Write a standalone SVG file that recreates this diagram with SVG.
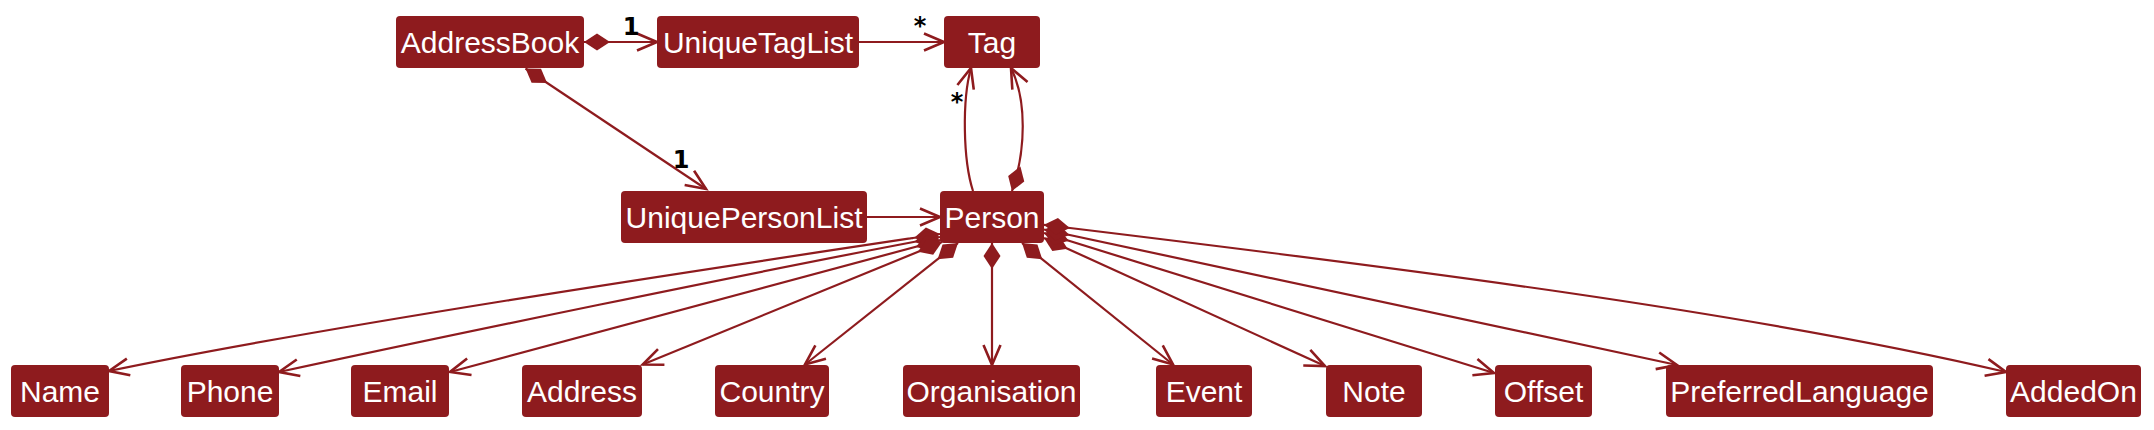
<svg xmlns="http://www.w3.org/2000/svg" width="2154" height="430" viewBox="0 0 2154 430">
<style>
.box{fill:#8E1B1E;}
.lbl{fill:#FFFFFF;font-family:"Liberation Sans",Arial,sans-serif;font-size:30px;text-anchor:middle;}
.edge{fill:none;stroke:#8E1B1E;stroke-width:2.2;marker-end:url(#arr);}
.comp{marker-start:url(#dia);}
.mult{fill:#000000;font-family:"DejaVu Sans",sans-serif;font-size:24px;font-weight:bold;text-anchor:middle;}
</style>
<defs>
<marker id="arr" viewBox="-24 -12 29 24" refX="0" refY="0" markerWidth="29" markerHeight="24" markerUnits="userSpaceOnUse" orient="auto">
<path d="M-20,-8.5 L0,0 L-20,8.5" fill="none" stroke="#8E1B1E" stroke-width="2.6"/>
</marker>
<marker id="dia" viewBox="-2 -11 30 22" refX="0" refY="0" markerWidth="30" markerHeight="22" markerUnits="userSpaceOnUse" orient="auto">
<path d="M0,0 L13,-8.5 L26,0 L13,8.5 Z" fill="#8E1B1E"/>
</marker>
</defs>
<rect width="2154" height="430" fill="#FFFFFF"/>
<g id="connectors">
<path class="edge comp" d="M584,42 L657,42"/>
<path class="edge" d="M859,42 L944,42"/>
<path class="edge comp" d="M525.5,68.5 L706,189"/>
<path class="edge" d="M867,217 L940,217"/>
<path class="edge" d="M973,191 C963,160 962,100 971,68"/>
<path class="edge comp" d="M1012,191 C1026,150 1027,100 1011,68"/>
<path class="edge comp" d="M940,234 L913,238 C700,270 320,327 109,371"/>
<path class="edge comp" d="M940,237 L913.5,242 C750,273 450,335 279,372"/>
<path class="edge comp" d="M941,240 L450,372"/>
<path class="edge comp" d="M942,242 L642.7,364.5"/>
<path class="edge comp" d="M958,243 L805,364.5"/>
<path class="edge comp" d="M992,243 L992,365"/>
<path class="edge comp" d="M1022,243 L1173,364.5"/>
<path class="edge comp" d="M1044,238 L1325,366"/>
<path class="edge comp" d="M1044,233 L1494,373"/>
<path class="edge comp" d="M1044,229.5 L1677,365"/>
<path class="edge comp" d="M1044,224.8 L1070,228 C1400,268 1750,312 2006,372"/>
<text class="mult" x="631" y="35">1</text>
<text class="mult" x="920" y="34">*</text>
<text class="mult" x="681" y="168">1</text>
<text class="mult" x="957" y="110">*</text>
</g>
<g id="AddressBook"><rect class="box" x="396" y="16" width="188" height="52" rx="4"/><text class="lbl" x="490" y="53">AddressBook</text></g>
<g id="UniqueTagList"><rect class="box" x="657" y="16" width="202" height="52" rx="4"/><text class="lbl" x="758" y="53">UniqueTagList</text></g>
<g id="Tag"><rect class="box" x="944" y="16" width="96" height="52" rx="4"/><text class="lbl" x="992" y="53">Tag</text></g>
<g id="UniquePersonList"><rect class="box" x="621" y="191" width="246" height="52" rx="4"/><text class="lbl" x="744" y="228" textLength="237" lengthAdjust="spacingAndGlyphs">UniquePersonList</text></g>
<g id="Person"><rect class="box" x="940" y="191" width="104" height="52" rx="4"/><text class="lbl" x="992" y="228">Person</text></g>
<g id="Name"><rect class="box" x="11" y="365" width="98" height="52" rx="4"/><text class="lbl" x="60" y="402">Name</text></g>
<g id="Phone"><rect class="box" x="181" y="365" width="98" height="52" rx="4"/><text class="lbl" x="230" y="402">Phone</text></g>
<g id="Email"><rect class="box" x="351" y="365" width="98" height="52" rx="4"/><text class="lbl" x="400" y="402">Email</text></g>
<g id="Address"><rect class="box" x="522" y="365" width="120" height="52" rx="4"/><text class="lbl" x="582" y="402">Address</text></g>
<g id="Country"><rect class="box" x="715" y="365" width="114" height="52" rx="4"/><text class="lbl" x="772" y="402">Country</text></g>
<g id="Organisation"><rect class="box" x="903" y="365" width="177" height="52" rx="4"/><text class="lbl" x="991.5" y="402">Organisation</text></g>
<g id="Event"><rect class="box" x="1156" y="365" width="96" height="52" rx="4"/><text class="lbl" x="1204" y="402">Event</text></g>
<g id="Note"><rect class="box" x="1326" y="365" width="96" height="52" rx="4"/><text class="lbl" x="1374" y="402">Note</text></g>
<g id="Offset"><rect class="box" x="1495" y="365" width="97" height="52" rx="4"/><text class="lbl" x="1543.5" y="402">Offset</text></g>
<g id="PreferredLanguage"><rect class="box" x="1666" y="365" width="267" height="52" rx="4"/><text class="lbl" x="1799.5" y="402">PreferredLanguage</text></g>
<g id="AddedOn"><rect class="box" x="2006" y="365" width="135" height="52" rx="4"/><text class="lbl" x="2073.5" y="402">AddedOn</text></g>
</svg>
